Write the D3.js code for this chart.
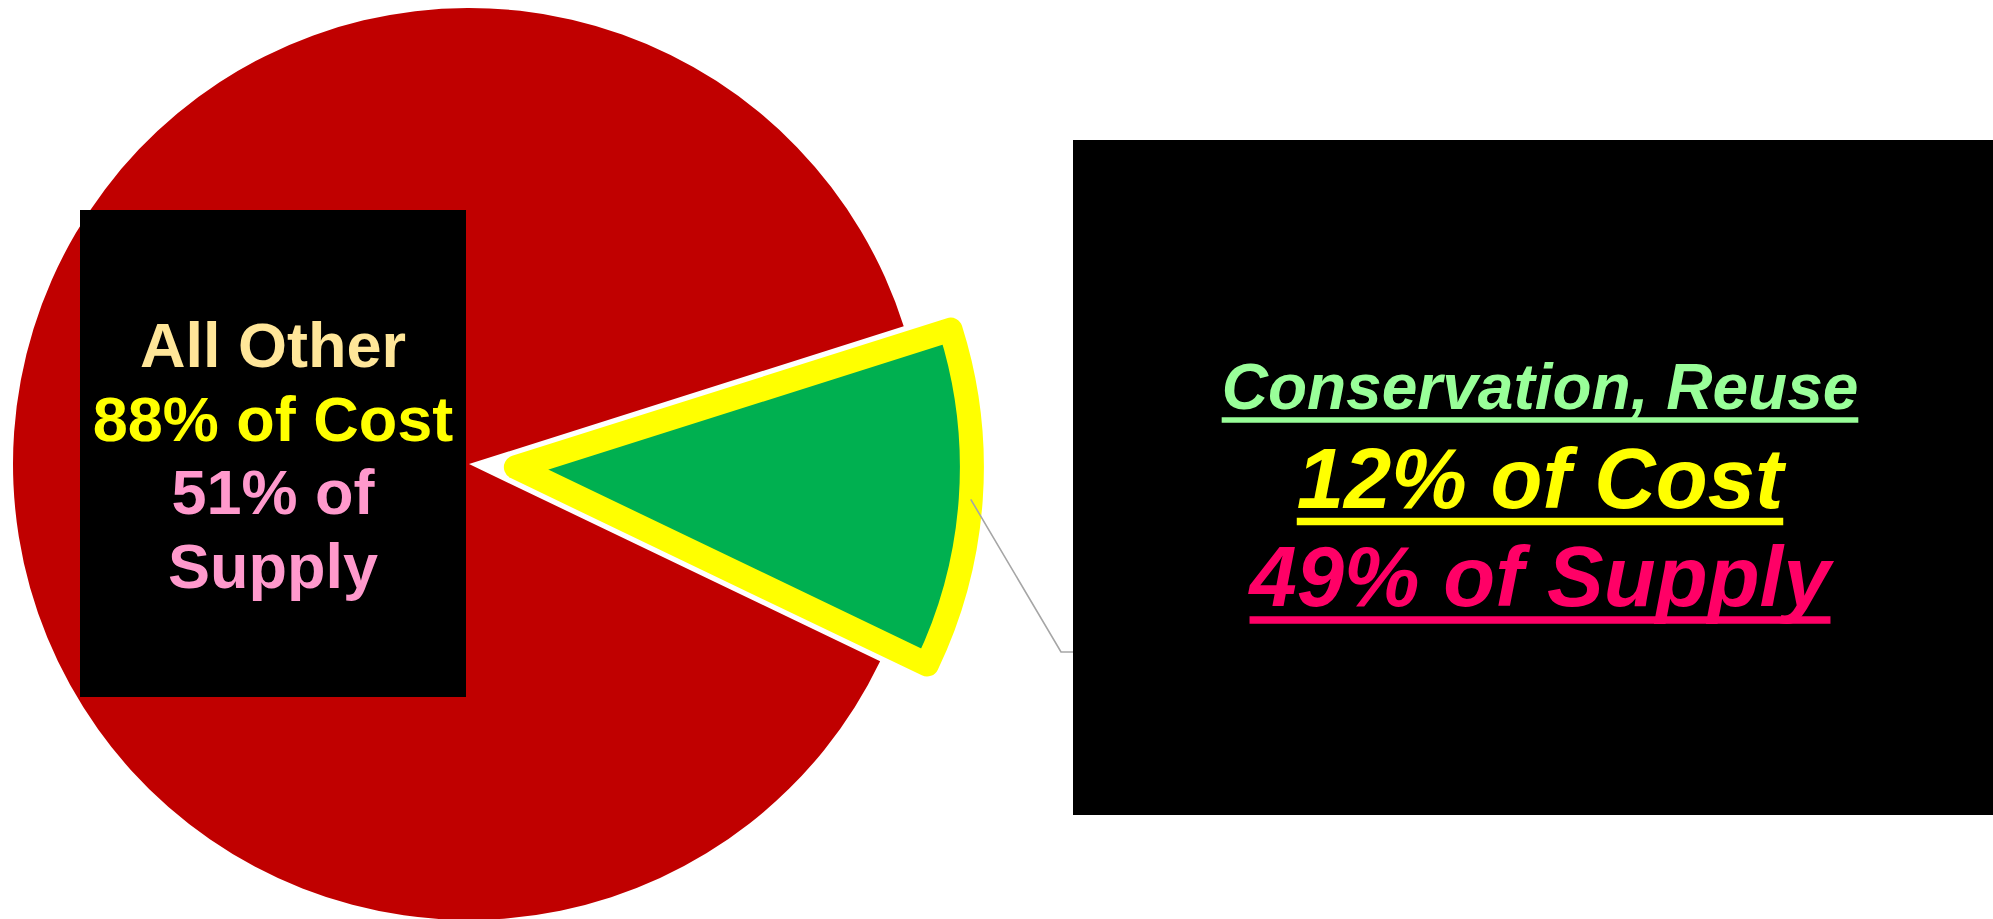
<!DOCTYPE html>
<html>
<head>
<meta charset="utf-8">
<script src="https://cdn.jsdelivr.net/npm/d3@7"></script>
<style>
  html, body { margin: 0; padding: 0; background: #ffffff; overflow: hidden; }
  svg { display: block; }
</style>
</head>
<body>
<svg id="chart" width="1993" height="919"></svg>
<script>
// Share of total cost, by water source
const categories = ["Conservation, Reuse", "All Other"];
const costShare = [12, 88];
// Share of total supply, by water source
const supplyShare = [49, 51];
const sliceColors = ["#00B050", "#C00000"];

const svg = d3.select("#chart");
const W = 1993, H = 919;

// Pie geometry
const cx = 469, cy = 464, radius = 456;
const explode = 47;                       // pull-out distance of the highlighted slice
const startDeg = 72.43;                   // where the first slice begins (clockwise from 12 o'clock)

const pie = d3.pie()
  .sort(null)
  .value(d => d.cost)
  .startAngle(startDeg * Math.PI / 180)
  .endAngle(startDeg * Math.PI / 180 + 2 * Math.PI);

const data = categories.map((c, i) => ({ name: c, cost: costShare[i], supply: supplyShare[i], color: sliceColors[i] }));
const arcs = pie(data);
const arc = d3.arc().innerRadius(0).outerRadius(radius);

const g = svg.append("g").attr("transform", `translate(${cx},${cy})`);

// Remaining slice first, highlighted slice on top
const order = [1, 0];
order.forEach(i => {
  const a = arcs[i];
  const mid = (a.startAngle + a.endAngle) / 2;
  const off = i === 0 ? explode : 0;
  const dx = Math.sin(mid) * off, dy = -Math.cos(mid) * off;
  const p = g.append("path")
    .attr("d", arc(a))
    .attr("transform", `translate(${dx},${dy})`)
    .attr("fill", a.data.color);
  if (i === 0) {
    p.attr("stroke", "#FFFF00")
     .attr("stroke-width", 24)
     .attr("stroke-linejoin", "round");
  }
});

// Label boxes
const leftBox = { x: 80, y: 210, w: 386, h: 487 };
const rightBox = { x: 1073, y: 140, w: W - 1073 + 10, h: 675 };

// Leader line from the highlighted slice to its label box
{
  const a = arcs[0];
  const mid = (a.startAngle + a.endAngle) / 2;
  const ox = Math.sin(mid) * explode, oy = -Math.cos(mid) * explode;
  const sx = cx + ox + Math.sin(mid) * radius;
  const sy = cy + oy - Math.cos(mid) * radius;
  const by = 652;
  svg.append("polyline")
    .attr("points", `${sx},${sy} ${rightBox.x - 12},${by} ${rightBox.x},${by}`)
    .attr("fill", "none")
    .attr("stroke", "#A6A6A6")
    .attr("stroke-width", 1.6);
}

svg.append("rect")
  .attr("x", leftBox.x).attr("y", leftBox.y)
  .attr("width", leftBox.w).attr("height", leftBox.h)
  .attr("fill", "#000000");

svg.append("rect")
  .attr("x", rightBox.x).attr("y", rightBox.y)
  .attr("width", rightBox.w).attr("height", rightBox.h)
  .attr("fill", "#000000");

// Left label: the larger slice
const leftLines = [
  { text: data[1].name, color: "#FFE699", y: 366.7 },
  { text: `${data[1].cost}% of Cost`, color: "#FFFF00", y: 440.7 },
  { text: `${data[1].supply}% of`, color: "#FF99CC", y: 514 },
  { text: "Supply", color: "#FF99CC", y: 587.5 }
];
const leftCx = leftBox.x + leftBox.w / 2;
svg.append("g")
  .selectAll("text")
  .data(leftLines)
  .join("text")
  .attr("x", leftCx)
  .attr("y", d => d.y)
  .attr("text-anchor", "middle")
  .attr("font-family", "'Liberation Sans', Arial, sans-serif")
  .attr("font-weight", "bold")
  .attr("font-size", 63)
  .attr("fill", d => d.color)
  .text(d => d.text);

// Right label: the highlighted slice, underlined italic lines
const rightLines = [
  { text: data[0].name, color: "#99FF99", y: 409, size: 64, uy: 420, uw: 5.5 },
  { text: `${data[0].cost}% of Cost`, color: "#FFFF00", y: 508, size: 85, uy: 521.5, uw: 7.5 },
  { text: `${data[0].supply}% of Supply`, color: "#FF0066", y: 606, size: 85, uy: 620, uw: 7.5 }
];
const rightCx = 1540;
const rg = svg.append("g");
rightLines.forEach(d => {
  const t = rg.append("text")
    .attr("x", rightCx)
    .attr("y", d.y)
    .attr("text-anchor", "middle")
    .attr("font-family", "'Liberation Sans', Arial, sans-serif")
    .attr("font-weight", "bold")
    .attr("font-style", "italic")
    .attr("font-size", d.size)
    .attr("fill", d.color)
    .text(d.text);
  const len = t.node().getComputedTextLength();
  rg.append("rect")
    .attr("x", rightCx - len / 2)
    .attr("y", d.uy - d.uw / 2)
    .attr("width", len)
    .attr("height", d.uw)
    .attr("fill", d.color);
});
</script>
</body>
</html>
